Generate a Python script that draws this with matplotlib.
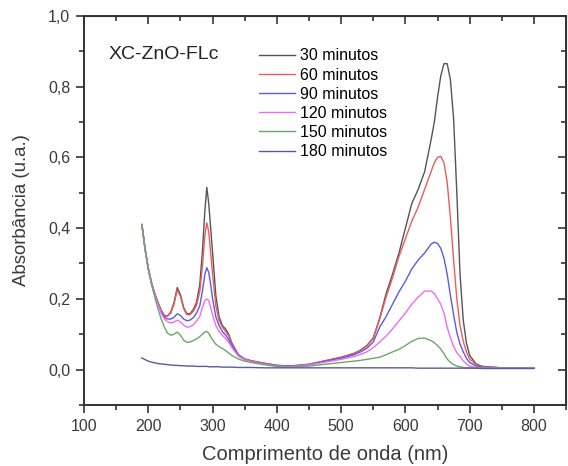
import numpy as np
import matplotlib
matplotlib.use('Agg')
from matplotlib import pyplot as plt
from matplotlib.ticker import MultipleLocator, FuncFormatter

plt.rcParams['font.family'] = ['Liberation Sans', 'DejaVu Sans']

# wavelength grid (nm)
wl = [190, 195, 200, 205, 210, 215, 220, 225, 230, 235, 240, 245, 250, 255, 260, 265, 270, 275,
      280, 284, 288, 291, 294, 297, 300,
      305, 310, 315, 320, 325, 330, 340, 350, 360, 380, 400, 420, 450, 500, 520, 530, 540, 550,
      560, 570, 580, 590, 600, 610, 620, 630, 640, 645, 650, 655, 660, 665, 670, 675, 680, 685,
      690, 695, 700, 710, 720, 750, 800]

abs_30 = [0.41, 0.34, 0.285, 0.245, 0.215, 0.19, 0.168, 0.152, 0.152, 0.163, 0.19, 0.232, 0.212, 0.175, 0.158, 0.158, 0.17, 0.19,
          0.24, 0.33, 0.45, 0.515, 0.47, 0.40, 0.33,
          0.21, 0.15, 0.125, 0.115, 0.10, 0.075, 0.042, 0.03, 0.025, 0.018, 0.012, 0.01, 0.015, 0.035, 0.046, 0.055, 0.068, 0.09,
          0.145, 0.215, 0.27, 0.33, 0.40, 0.47, 0.51, 0.56, 0.65, 0.70, 0.77, 0.83, 0.865, 0.865, 0.82, 0.71, 0.50, 0.27,
          0.14, 0.075, 0.04, 0.016, 0.009, 0.005, 0.004]

abs_60 = [0.41, 0.34, 0.285, 0.245, 0.215, 0.19, 0.167, 0.151, 0.151, 0.16, 0.185, 0.225, 0.207, 0.172, 0.155, 0.155, 0.165, 0.182,
          0.22, 0.29, 0.38, 0.415, 0.39, 0.33, 0.27,
          0.18, 0.14, 0.12, 0.108, 0.095, 0.072, 0.042, 0.03, 0.025, 0.018, 0.012, 0.01, 0.015, 0.034, 0.045, 0.054, 0.066, 0.088,
          0.143, 0.205, 0.26, 0.32, 0.37, 0.42, 0.46, 0.51, 0.56, 0.585, 0.60, 0.603, 0.585, 0.53, 0.43, 0.31, 0.20, 0.125,
          0.08, 0.05, 0.03, 0.014, 0.008, 0.005, 0.004]

abs_90 = [0.41, 0.34, 0.285, 0.245, 0.213, 0.187, 0.163, 0.148, 0.143, 0.143, 0.148, 0.158, 0.153, 0.143, 0.138, 0.14, 0.147, 0.16,
          0.18, 0.22, 0.27, 0.288, 0.275, 0.24, 0.20,
          0.15, 0.125, 0.108, 0.098, 0.085, 0.068, 0.04, 0.029, 0.024, 0.017, 0.011, 0.009, 0.014, 0.032, 0.042, 0.05, 0.06, 0.078,
          0.12, 0.15, 0.185, 0.22, 0.25, 0.285, 0.31, 0.33, 0.355, 0.36, 0.357, 0.343, 0.315, 0.27, 0.21, 0.155, 0.105, 0.072,
          0.05, 0.032, 0.02, 0.01, 0.007, 0.005, 0.004]

abs_120 = [0.41, 0.34, 0.285, 0.244, 0.212, 0.185, 0.16, 0.143, 0.135, 0.132, 0.134, 0.14, 0.135, 0.126, 0.12, 0.121, 0.127, 0.137,
           0.15, 0.175, 0.195, 0.20, 0.195, 0.175, 0.155,
           0.125, 0.108, 0.097, 0.088, 0.077, 0.062, 0.038, 0.028, 0.023, 0.016, 0.01, 0.008, 0.013, 0.029, 0.037, 0.043, 0.05, 0.062,
           0.078, 0.095, 0.115, 0.138, 0.16, 0.185, 0.205, 0.222, 0.222, 0.215, 0.20, 0.185, 0.16, 0.12, 0.09, 0.065, 0.048, 0.037,
           0.025, 0.016, 0.01, 0.006, 0.005, 0.004, 0.004]

abs_150 = [0.41, 0.34, 0.283, 0.24, 0.205, 0.172, 0.143, 0.12, 0.103, 0.097, 0.10, 0.106, 0.097, 0.083, 0.077, 0.078, 0.082, 0.087,
           0.093, 0.10, 0.106, 0.108, 0.103, 0.093, 0.084,
           0.072, 0.065, 0.06, 0.054, 0.047, 0.04, 0.03, 0.024, 0.02, 0.014, 0.009, 0.007, 0.01, 0.02, 0.024, 0.026, 0.029, 0.032,
           0.035, 0.042, 0.05, 0.057, 0.068, 0.08, 0.088, 0.089, 0.082, 0.076, 0.068, 0.058, 0.045, 0.03, 0.02, 0.014, 0.01, 0.008,
           0.006, 0.005, 0.005, 0.004, 0.004, 0.004, 0.004]

abs_180 = [0.033, 0.028, 0.024, 0.021, 0.019, 0.017, 0.016, 0.015, 0.014, 0.013, 0.012, 0.012, 0.011, 0.011, 0.01, 0.01, 0.01, 0.009,
           0.009, 0.009, 0.009, 0.009, 0.008, 0.008, 0.008,
           0.008, 0.008, 0.007, 0.007, 0.007, 0.007, 0.006, 0.006, 0.006, 0.005, 0.005, 0.005, 0.005, 0.005, 0.005, 0.005, 0.005, 0.005,
           0.005, 0.005, 0.005, 0.005, 0.005, 0.005, 0.004, 0.004, 0.004, 0.004, 0.004, 0.004, 0.004, 0.004, 0.004, 0.004, 0.004, 0.004,
           0.004, 0.004, 0.004, 0.004, 0.003, 0.003, 0.003]

labels = ['30 minutos', '60 minutos', '90 minutos', '120 minutos', '150 minutos', '180 minutos']
colors = ['#555555', '#f05a5a', '#5a5ae6', '#ee6eee', '#6aa86a', '#5a5a9e']
series = [abs_30, abs_60, abs_90, abs_120, abs_150, abs_180]

fig = plt.figure(figsize=(5.68, 4.66), dpi=100)
ax = fig.add_axes([0.148, 0.131, 0.8486, 0.8348])

for vals, lab, col in zip(series, labels, colors):
    ax.plot(wl, vals, color=col, lw=1.0, label=lab)

ax.set_xlim(100, 850)
ax.set_ylim(-0.1, 1.0)
ax.xaxis.set_major_locator(MultipleLocator(100))
ax.xaxis.set_minor_locator(MultipleLocator(50))
ax.yaxis.set_major_locator(MultipleLocator(0.2))
ax.yaxis.set_minor_locator(MultipleLocator(0.1))
ax.yaxis.set_major_formatter(FuncFormatter(lambda v, p: ('%.1f' % v).replace('.', ',')))

txt = '#3a3a3a'
for s in ax.spines.values():
    s.set_linewidth(1.4)
    s.set_color('#333333')
ax.tick_params(which='both', direction='out', colors='#333333', labelcolor=txt, labelsize=11.5, width=1.2)
ax.tick_params(which='major', length=6, pad=4)
ax.tick_params(which='minor', length=3.5)

# top and right ticks pointing in
axt = ax.secondary_xaxis('top')
axt.xaxis.set_major_locator(MultipleLocator(100))
axt.xaxis.set_minor_locator(MultipleLocator(50))
axt.tick_params(which='both', direction='in', labeltop=False, colors='#333333', width=1.2)
axt.tick_params(which='major', length=6)
axt.tick_params(which='minor', length=3.5)
axr = ax.secondary_yaxis('right')
axr.yaxis.set_major_locator(MultipleLocator(0.2))
axr.yaxis.set_minor_locator(MultipleLocator(0.1))
axr.tick_params(which='both', direction='in', labelright=False, colors='#333333', width=1.2)
axr.tick_params(which='major', length=6)
axr.tick_params(which='minor', length=3.5)

ax.set_xlabel('Comprimento de onda (nm)', fontsize=14.5, color=txt, labelpad=8)
ax.set_ylabel('Absorbância (u.a.)', fontsize=13.4, color=txt, labelpad=13)

ax.text(0.05, 0.90, 'XC-ZnO-FLc', transform=ax.transAxes, fontsize=14, color='#222222', va='center')

ax.legend(loc='upper left', bbox_to_anchor=(0.349, 0.933), frameon=False, fontsize=11.5,
          handlelength=2.3, handletextpad=0.3, labelspacing=0.26, borderaxespad=0)

fig.savefig('out.png', dpi=100)
